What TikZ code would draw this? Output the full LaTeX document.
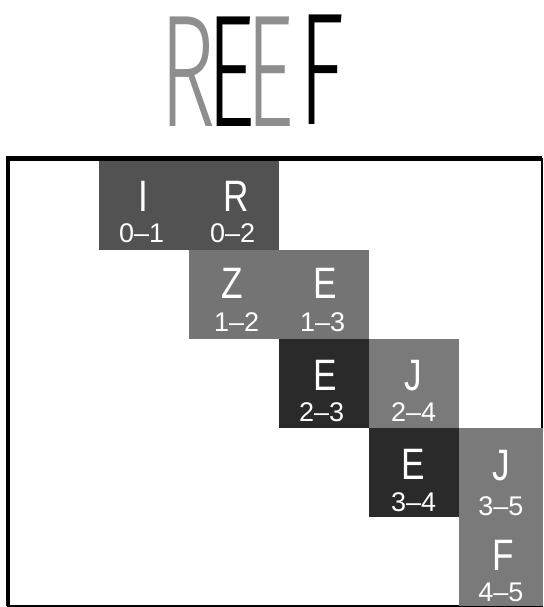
\documentclass[tikz,border=0pt]{standalone}
\usepackage{fontspec}
\setmainfont{Liberation Sans}
\newfontfamily\titlefont{Fira Sans Light}
\usetikzlibrary{calc}
\definecolor{blockA}{HTML}{525252}
\definecolor{blockB}{HTML}{747474}
\definecolor{blockE}{HTML}{2A2A2A}
\definecolor{blockJ}{HTML}{7A7A7A}
\definecolor{titlegray}{HTML}{8E8E8E}
\newcommand\narrowtxt[1]{\scalebox{0.8}[1]{#1}}
\newcommand\titlechar[1]{\scalebox{0.6}[1]{#1}}
\begin{document}
\begin{tikzpicture}[x=1pt,y=-1pt,
  cellbox/.style={rectangle, anchor=north west, inner sep=0pt, minimum width=90pt, minimum height=89pt, draw=none},
  lastcol/.style={minimum width=84.5pt},
  bigletter/.style={text=white, inner sep=0pt, font=\fontsize{44}{44}\selectfont},
  smallnum/.style={text=white, inner sep=0pt, font=\fontsize{27}{27}\selectfont},
  frameline/.style={line width=2pt, draw=black},
  titletext/.style={inner sep=0pt, font=\titlefont\fontsize{160}{160}\selectfont}]
\useasboundingbox (0,0) rectangle (543,607);
% title
\node[titletext, text=titlegray] (titleR)  at (188,72) {\titlechar{R}};
\node[titletext, text=black]     (titleE1) at (231,72) {\titlechar{E}};
\node[titletext, text=titlegray] (titleE2) at (270,72) {\titlechar{E}};
\node[titletext, text=black]     (titleF)  at (322,70) {\titlechar{F}};
% frame
\draw[frameline] (8,158.5) rectangle (541.5,605.5);
\draw[line width=4.5pt] (8,605.5) -- (8,158.5) -- (541.5,158.5);
% cells
\node[cellbox, fill=blockA] (I01) at (98.5,160.5) {};
\node[cellbox, fill=blockA] (R02) at (188.5,160.5) {};
\node[cellbox, fill=blockB] (Z12) at (188.5,249.5) {};
\node[cellbox, fill=blockB] (E13) at (278.5,249.5) {};
\node[cellbox, fill=blockE] (E23) at (278.5,338.5) {};
\node[cellbox, fill=blockJ] (J24) at (368.5,338.5) {};
\node[cellbox, fill=blockE] (E34) at (368.5,427.5) {};
\node[cellbox, lastcol, fill=blockJ] (J35) at (458.5,427.5) {};
\node[cellbox, lastcol, fill=blockJ] (F45) at (458.5,516.5) {};
% labels
\node[bigletter] (I01l) at ($(I01.north)+(0,36)$) {\narrowtxt{I}};
\node[smallnum]  (I01n) at ($(I01.north)+(-2,73)$) {0–1};
\node[bigletter] (R02l) at ($(R02.north)+(3,36)$) {\narrowtxt{R}};
\node[smallnum]  (R02n) at ($(R02.north)+(-1,73)$) {0–2};
\node[bigletter] (Z12l) at ($(Z12.north)+(-1,34)$) {\narrowtxt{Z}};
\node[smallnum]  (Z12n) at ($(Z12.north)+(3,73)$) {1–2};
\node[bigletter] (E13l) at ($(E13.north)+(2,34)$) {\narrowtxt{E}};
\node[smallnum]  (E13n) at ($(E13.north)+(-1,73)$) {1–3};
\node[bigletter] (E23l) at ($(E23.north)+(2,37)$) {\narrowtxt{E}};
\node[smallnum]  (E23n) at ($(E23.north)+(-2,74)$) {2–3};
\node[bigletter] (J24l) at ($(J24.north)+(0,37)$) {\narrowtxt{J}};
\node[smallnum]  (J24n) at ($(J24.north)+(0,74)$) {2–4};
\node[bigletter] (E34l) at ($(E34.north)+(0,37)$) {\narrowtxt{E}};
\node[smallnum]  (E34n) at ($(E34.north)+(0,75)$) {3–4};
\node[bigletter] (J35l) at ($(J35.north)+(0,38)$) {\narrowtxt{J}};
\node[smallnum]  (J35n) at ($(J35.north)+(0,79)$) {3–5};
\node[bigletter] (F45l) at ($(F45.north)+(2,39)$) {\narrowtxt{F}};
\node[smallnum]  (F45n) at ($(F45.north)+(0,76)$) {4–5};
\end{tikzpicture}
\end{document}
